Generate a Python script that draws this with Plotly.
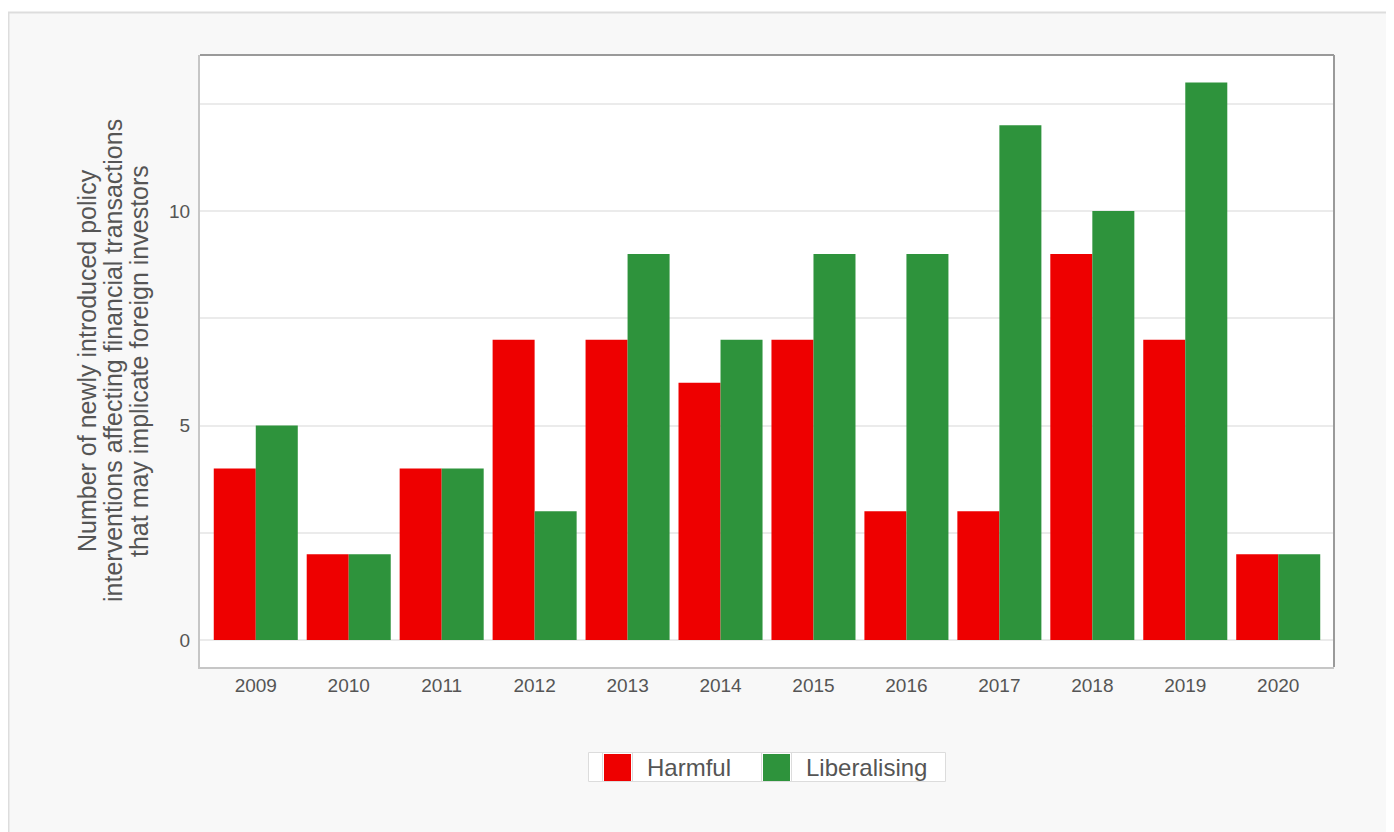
import plotly.graph_objects as go

# ---------------- data ----------------
years = ["2009", "2010", "2011", "2012", "2013", "2014",
         "2015", "2016", "2017", "2018", "2019", "2020"]
harmful = [4, 2, 4, 7, 7, 6, 7, 3, 3, 9, 7, 2]
liberalising = [5, 2, 4, 3, 9, 7, 9, 9, 12, 10, 13, 2]
series_names = ["Harmful", "Liberalising"]
series_colors = ["#ee0000", "#2e933c"]
y_title_lines = ["Number of newly introduced policy",
                 "interventions affecting financial transactions",
                 "that may implicate foreign investors"]

# ---------------- geometry helpers (page pixels -> paper) ----------------
W, H = 1394, 832
OFF = 8  # body margin of the html page
L, R, T, B = 200 - OFF, 1334 - OFF, 55 - OFF, 667 - OFF
PW, PH = R - L, B - T


def px(x):
    """page x pixel -> paper"""
    return (x - OFF - L) / PW


def py(y):
    """page y pixel -> paper"""
    return (B - (y - OFF)) / PH


FONT = "Liberation Sans, Arial, sans-serif"
TXT = "#555555"

fig = go.Figure()
for name, vals, col in zip(series_names, [harmful, liberalising], series_colors):
    fig.add_trace(go.Bar(x=years, y=vals, name=name, marker=dict(color=col, line=dict(width=0)),
                         showlegend=False))

shapes = []
annotations = []

# page chrome: white strip at top and container borders
shapes.append(dict(type="rect", xref="paper", yref="paper", x0=px(0), x1=px(W + 20), y0=py(12), y1=py(-5),
                   fillcolor="white", line=dict(width=0), layer="above"))
shapes.append(dict(type="line", xref="paper", yref="paper", x0=px(8), x1=px(W + 20), y0=py(12.5), y1=py(12.5),
                   line=dict(color="#dddddd", width=2), layer="above"))
shapes.append(dict(type="line", xref="paper", yref="paper", x0=px(8.5), x1=px(8.5), y0=py(12), y1=py(H + 20),
                   line=dict(color="#dddddd", width=2), layer="above"))

# plot border top/right
shapes.append(dict(type="line", xref="paper", yref="paper", x0=0, x1=1, y0=1, y1=1,
                   line=dict(color="#9a9a9a", width=2), layer="above"))
shapes.append(dict(type="line", xref="paper", yref="paper", x0=1, x1=1, y0=0, y1=1,
                   line=dict(color="#9a9a9a", width=2), layer="above"))

# manual legend
lg_top, lg_bot = 752.5, 781.5
shapes.append(dict(type="rect", xref="paper", yref="paper", x0=px(588.5), x1=px(945.5),
                   y0=py(lg_bot), y1=py(lg_top), fillcolor="white",
                   line=dict(color="#dcdcdc", width=1), layer="above"))
sq_lefts = [604, 763]
text_lefts = [645, 804]
for i, (name, col) in enumerate(zip(series_names, series_colors)):
    x0 = sq_lefts[i]
    for dx in (-1.5, 28.5):
        shapes.append(dict(type="line", xref="paper", yref="paper", x0=px(x0 + dx), x1=px(x0 + dx),
                           y0=py(lg_bot), y1=py(lg_top), line=dict(color="#dcdcdc", width=1), layer="above"))
    shapes.append(dict(type="rect", xref="paper", yref="paper", x0=px(x0), x1=px(x0 + 27),
                       y0=py(781), y1=py(754), fillcolor=col, line=dict(width=0), layer="above"))
    annotations.append(dict(text=name, xref="paper", yref="paper", x=px(text_lefts[i]), y=py(767),
                            xanchor="left", yanchor="middle", showarrow=False,
                            font=dict(family=FONT, size=24, color=TXT)))

# y axis title lines
for xc, line in zip([87, 113, 139], y_title_lines):
    annotations.append(dict(text=line, xref="paper", yref="paper", x=px(xc), y=0.5,
                            xanchor="center", yanchor="middle", textangle=-90, showarrow=False,
                            font=dict(family=FONT, size=25, color=TXT)))

fig.update_layout(
    width=W, height=H,
    margin=dict(l=L, r=W - R, t=T, b=H - B),
    paper_bgcolor="#f8f8f8",
    plot_bgcolor="white",
    barmode="group",
    bargap=0.096,
    bargroupgap=0,
    font=dict(family=FONT, size=19, color=TXT),
    shapes=shapes,
    annotations=annotations,
    showlegend=False,
)
fig.update_xaxes(type="category", range=[-0.6, 11.6], showgrid=False, showline=True,
                 linecolor="#c6c6c6", linewidth=2,
                 ticks="", tickfont=dict(size=19, color=TXT), ticklabelstandoff=0)
fig.update_yaxes(range=[-0.63, 13.64], dtick=5, tick0=0, showgrid=True, gridcolor="#ebebeb", gridwidth=2,
                 zeroline=False, showline=True, linecolor="#c6c6c6", linewidth=2,
                 ticks="", tickfont=dict(size=19, color=TXT), ticklabelstandoff=4,
                 minor=dict(dtick=2.5, tick0=0, showgrid=True, gridcolor="#ebebeb", gridwidth=2))

fig.write_html("out.html")
